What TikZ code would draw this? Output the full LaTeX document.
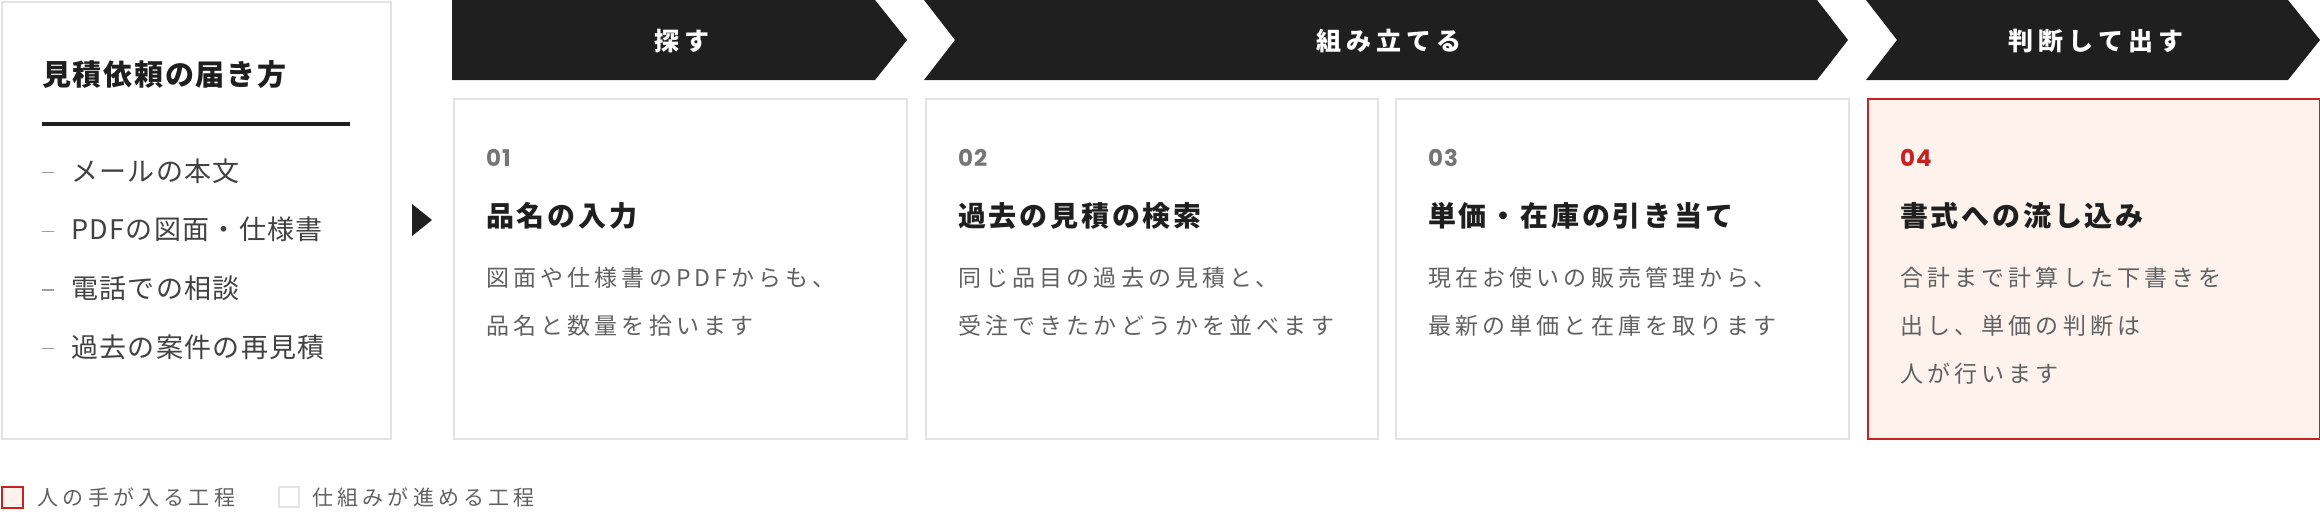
\documentclass[tikz,border=0pt]{standalone}
\usepackage{fontspec}
\usepackage{tikz}
\usetikzlibrary{positioning}
\newfontfamily\jpfont{Noto Sans CJK JP}
\newfontfamily\numfont{Poppins}
\definecolor{mdark}{rgb}{0.12, 0.12, 0.12}
\definecolor{mred}{rgb}{0.78, 0.13, 0.13}
\definecolor{mnum}{rgb}{0.46, 0.46, 0.46}
\definecolor{mtext}{rgb}{0.38, 0.38, 0.38}
\definecolor{mitem}{rgb}{0.26, 0.26, 0.26}
\definecolor{mline}{rgb}{0.89, 0.89, 0.89}
\definecolor{mfill}{rgb}{0.996, 0.953, 0.925}
\tikzset{box/.style = {draw=mline, line width=2pt, fill=white, inner sep=0pt, anchor=north west},
         redbox/.style = {box, draw=mred, fill=mfill},
         phase/.style = {white, inner sep=0pt,
                         font=\jpfont\bfseries\fontsize{25}{30}\selectfont\addfontfeatures{LetterSpace=20}},
         head/.style = {mdark, inner sep=0pt, anchor=base west,
                        font=\jpfont\bfseries\fontsize{29}{34}\selectfont\addfontfeatures{LetterSpace=6}},
         item/.style = {mitem, inner sep=0pt, anchor=base west,
                        font=\jpfont\fontsize{27}{32}\selectfont\addfontfeatures{LetterSpace=5}},
         num/.style = {mnum, inner sep=0pt, anchor=base west,
                       font=\numfont\bfseries\fontsize{23}{26}\selectfont\addfontfeatures{LetterSpace=4}},
         title/.style = {mdark, inner sep=0pt, anchor=base west,
                         font=\jpfont\bfseries\fontsize{28}{32}\selectfont\addfontfeatures{LetterSpace=10}},
         desc/.style = {mtext, inner sep=0pt, anchor=north west, align=left,
                        font=\jpfont\fontsize{23}{48}\selectfont\addfontfeatures{LetterSpace=18}},
         legend/.style = {mtext, inner sep=0pt, anchor=west,
                          font=\jpfont\fontsize{21}{26}\selectfont\addfontfeatures{LetterSpace=20}}}

\begin{document}
\begin{tikzpicture}[x=1pt, y=-1pt]
    \useasboundingbox (0, 0) rectangle (2320, 522);

    \node [box, minimum width=389pt, minimum height=437pt] (source) at (1, 1) {};
    \node [head] (sourcehead) at (42, 85) {見積依頼の届き方};
    \draw [mdark, line width=4pt] (42, 124) -- (350, 124);
    \foreach \txt [count=\i] in {メールの本文, PDFの図面・仕様書, 電話での相談, 過去の案件の再見積} {
        \node [item] (item\i) at (71, {181 + 58.7*(\i - 1)}) {\txt};
        \draw [mnum!70, line width=1.2pt] (42, {172.5 + 58.7*(\i - 1)}) -- (54, {172.5 + 58.7*(\i - 1)});
    }
    \fill [mdark] (412, 204) -- (432, 220) -- (412, 236) -- cycle;

    \fill [mdark] (452, 0) -- (875, 0) -- (907, 40) -- (875, 80) -- (452, 80) -- cycle;
    \fill [mdark] (924, 0) -- (1817, 0) -- (1848, 40) -- (1817, 80) -- (924, 80) -- (955, 40) -- cycle;
    \fill [mdark] (1866, 0) -- (2288, 0) -- (2320, 40) -- (2288, 80) -- (1866, 80) -- (1897, 40) -- cycle;
    \node [phase] (search) at (682, 41) {探す};
    \node [phase] (build) at (1389, 41) {組み立てる};
    \node [phase] (judge) at (2096, 41) {判断して出す};

    \node [box, minimum width=453pt, minimum height=340pt] (card1) at (453, 98) {};
    \node [box, minimum width=452pt, minimum height=340pt] (card2) at (925, 98) {};
    \node [box, minimum width=453pt, minimum height=340pt] (card3) at (1395, 98) {};
    \node [redbox, minimum width=452pt, minimum height=340pt] (card4) at (1867, 98) {};

    \node [num] (num1) at ([shift={(33, 68)}] card1.north west) {01};
    \node [title] (title1) at ([shift={(33, 128)}] card1.north west) {品名の入力};
    \node [desc] (desc1) at ([shift={(33, 169)}] card1.north west) {図面や仕様書のPDFからも、\\品名と数量を拾います};

    \node [num] (num2) at ([shift={(33, 68)}] card2.north west) {02};
    \node [title] (title2) at ([shift={(33, 128)}] card2.north west) {過去の見積の検索};
    \node [desc] (desc2) at ([shift={(33, 169)}] card2.north west) {同じ品目の過去の見積と、\\受注できたかどうかを並べます};

    \node [num] (num3) at ([shift={(33, 68)}] card3.north west) {03};
    \node [title] (title3) at ([shift={(33, 128)}] card3.north west) {単価・在庫の引き当て};
    \node [desc] (desc3) at ([shift={(33, 169)}] card3.north west) {現在お使いの販売管理から、\\最新の単価と在庫を取ります};

    \node [num, mred] (num4) at ([shift={(33, 68)}] card4.north west) {04};
    \node [title] (title4) at ([shift={(33, 128)}] card4.north west) {書式への流し込み};
    \node [desc] (desc4) at ([shift={(33, 169)}] card4.north west) {合計まで計算した下書きを\\出し、単価の判断は\\人が行います};

    \node [redbox, anchor=center, minimum size=21pt] (manual) at (12, 497) {};
    \node [legend, right=14pt of manual] (manualtext) {人の手が入る工程};
    \node [box, anchor=center, minimum size=20pt] (auto) at (289, 497) {};
    \node [legend, right=12pt of auto] (autotext) {仕組みが進める工程};
\end{tikzpicture}
\end{document}
